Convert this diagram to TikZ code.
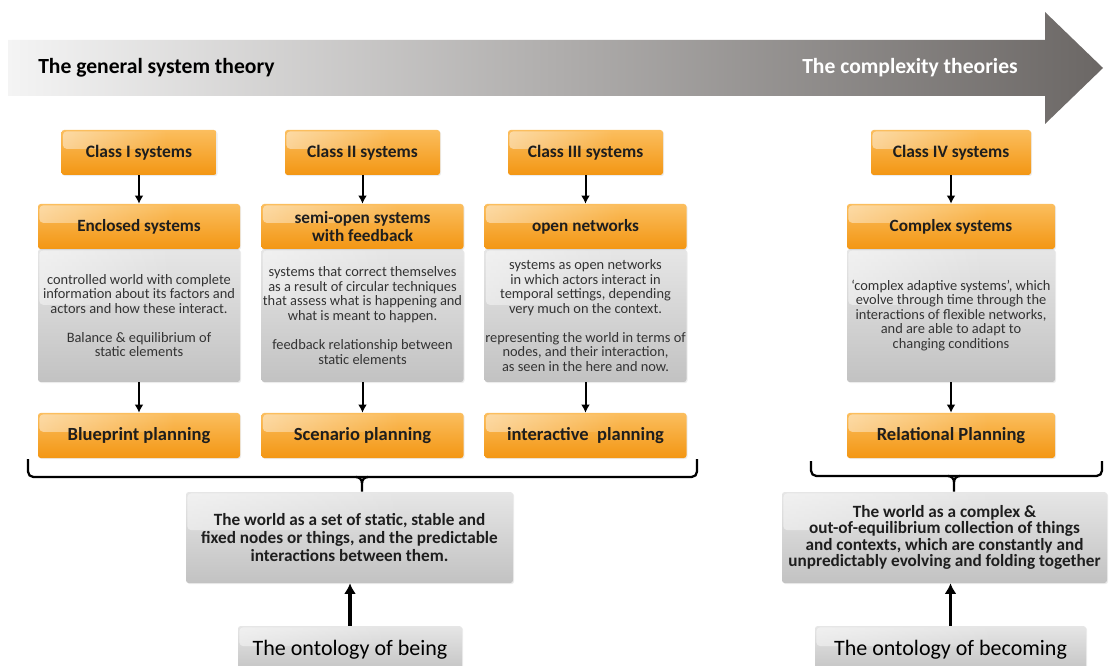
\documentclass[tikz,border=0pt]{standalone}
\usepackage{fontspec}
\setmainfont{Carlito}
\usetikzlibrary{arrows.meta,shadows,calc,fadings}
\definecolor{orTop}{HTML}{FBBE5E}
\definecolor{orMid}{HTML}{F7A126}
\definecolor{orBot}{HTML}{F39613}
\definecolor{grTop}{HTML}{E6E6E6}
\definecolor{grBot}{HTML}{C2C2C2}
\definecolor{arL}{HTML}{F4F4F4}
\definecolor{arR}{HTML}{6B6765}
\definecolor{txt}{HTML}{1E1E1E}
\definecolor{gtxt}{HTML}{333333}
\def\px{0.75pt}
\tikzfading[name=hlfade, left color=transparent!0, right color=transparent!100]
\tikzset{
  hilite/.style={path picture={
      \coordinate (hA) at ($(path picture bounding box.north west)!0.68!(path picture bounding box.north east)$);
      \coordinate (hB) at ($(path picture bounding box.north west)!0.42!(path picture bounding box.south west)$);
      \fill[white,fill opacity=0.45,path fading=hlfade,rounded corners=3pt] ($(path picture bounding box.north west)+(1pt,-1pt)$) rectangle (hA |- hB);}},
  boxbase/.style={rounded corners=2pt, inner sep=0pt, align=center,
      drop shadow={opacity=0.15, shadow xshift=0.8pt, shadow yshift=-0.8pt}},
  orbox/.style={boxbase, hilite, top color=orTop, middle color=orMid, bottom color=orBot,
      text=txt, font=\bfseries\fontsize{12.9pt}{13.5pt}\selectfont, minimum height=45*\px},
  clsbox/.style={orbox, minimum width=155*\px, font=\bfseries\fontsize{13.1pt}{13.5pt}\selectfont},
  hdbox/.style={orbox, minimum width=202*\px},
  planbox/.style={orbox, minimum width=202*\px, font=\bfseries\fontsize{13.9pt}{14pt}\selectfont},
  grbox/.style={boxbase, hilite, top color=grTop, bottom color=grBot, text=gtxt,
      font=\fontsize{10.8pt}{10.9pt}\selectfont, minimum width=202*\px, minimum height=133*\px},
  worldbox/.style={boxbase, hilite, top color=grTop, bottom color=grBot, text=txt,
      font=\bfseries\fontsize{12.9pt}{13.3pt}\selectfont, minimum height=91*\px},
  ontobox/.style={boxbase, hilite, top color=grTop, bottom color=grBot, text=black,
      font=\fontsize{16.5pt}{17pt}\selectfont, minimum height=48*\px},
  smallarrow/.style={draw=black, line width=1.5pt, -{Latex[length=6pt,width=6.5pt]}},
  bigarrow/.style={draw=black, line width=2.4pt, -{Latex[length=8pt,width=9pt]}},
  bracepath/.style={draw=black, line width=1.7pt, rounded corners=4pt},
  titletext/.style={font=\bfseries\fontsize{16.2pt}{17pt}\selectfont, inner sep=0pt},
}
\begin{document}
\begin{tikzpicture}[x=0.75pt,y=-0.75pt]
\useasboundingbox (0,0) rectangle (1110,666);
\clip (0,0) rectangle (1110,666);

% top arrow
\shade[left color=arL, right color=arR] (8,40) -- (1045,40) -- (1045,12) -- (1103,68) -- (1045,124) -- (1045,96) -- (8,96) -- cycle;
\node[titletext, anchor=west, text=black] (gst) at (38,68) {The general system theory};
\node[titletext, anchor=east, text=white] (ct) at (1018,68) {The complexity theories};

% class boxes
\node[clsbox] (cls1) at (139,152.5) {Class I systems};
\node[clsbox] (cls2) at (362.5,152.5) {Class II systems};
\node[clsbox] (cls3) at (585.5,152.5) {Class III systems};
\node[clsbox, minimum width=160*\px] (cls4) at (951,152.5) {Class IV systems};

% gray description boxes
\node[grbox] (gr1) at (139,315.5) {controlled world with complete\\information about its factors and\\actors and how these interact.\\[10.9pt]Balance \& equilibrium of\\static elements};
\node[grbox] (gr2) at (362.5,315.5) {systems that correct themselves\\as a result of circular techniques\\that assess what is happening and\\what is meant to happen.\\[10.9pt]feedback relationship between\\static elements};
\node[grbox] (gr3) at (585.5,315.5) {systems as open networks\\in which actors interact in\\temporal settings, depending\\very much on the context.\\[10.9pt]representing the world in terms of\\nodes, and their interaction,\\as seen in the here and now.};
\node[grbox, minimum width=208*\px] (gr4) at (951,315.5) {‘complex adaptive systems’, which\\evolve through time through the\\interactions of flexible networks,\\and are able to adapt to\\changing conditions};

% header boxes
\node[hdbox] (hd1) at (139,226.5) {Enclosed systems};
\node[hdbox] (hd2) at (362.5,226.5) {semi-open systems\\with feedback};
\node[hdbox] (hd3) at (585.5,226.5) {open networks};
\node[hdbox, minimum width=208*\px] (hd4) at (951,226.5) {Complex systems};

% planning boxes
\node[planbox] (pl1) at (139,435.5) {Blueprint planning};
\node[planbox] (pl2) at (362.5,435.5) {Scenario planning};
\node[planbox] (pl3) at (585.5,435.5) {interactive~ planning};
\node[planbox, minimum width=208*\px] (pl4) at (951,435.5) {Relational Planning};

% arrows in columns
\foreach \i in {1,2,3,4}{
  \draw[smallarrow] (cls\i.south) -- (hd\i.north);
  \draw[smallarrow] (gr\i.south) -- (pl\i.north);
}

% world boxes
\node[worldbox, minimum width=327*\px] (w1) at (349.5,537.5) {The world as a set of static, stable and\\fixed nodes or things, and the predictable\\interactions between them.};
\node[worldbox, minimum width=325*\px, font=\bfseries\fontsize{12.9pt}{12.3pt}\selectfont] (w4) at (944.5,537.5) {The world as a complex \&\\out-of-equilibrium collection of things\\and contexts, which are constantly and\\unpredictably evolving and folding together};

% ontology boxes
\node[ontobox, minimum width=224*\px] (ob) at (350,650) {The ontology of being};
\node[ontobox, minimum width=271*\px] (oc) at (950.5,650) {The ontology of becoming};

\draw[bigarrow] (ob.north) -- (ob.north |- w1.south);
\draw[bigarrow] (oc.north) -- (oc.north |- w4.south);

% braces
\coordinate (bL1) at (28,459);
\coordinate (bR1) at (697,459);
\coordinate (bM1) at (362,477);
\draw[bracepath] (bL1) -- (bL1 |- bM1) -- (bR1 |- bM1) -- (bR1);
\draw[black, line width=1.7pt] ($(bM1)+(-6,0)$) to[out=0,in=90] ($(bM1)+(0,6)$) -- (bM1 |- w1.north);
\draw[black, line width=1.7pt] ($(bM1)+(6,0)$) to[out=180,in=90] ($(bM1)+(0,6)$);

\coordinate (bL4) at (811,461);
\coordinate (bR4) at (1102,461);
\coordinate (bM4) at (954,476);
\draw[bracepath] (bL4) -- (bL4 |- bM4) -- (bR4 |- bM4) -- (bR4);
\draw[black, line width=1.7pt] ($(bM4)+(-6,0)$) to[out=0,in=90] ($(bM4)+(0,6)$) -- (bM4 |- w4.north);
\draw[black, line width=1.7pt] ($(bM4)+(6,0)$) to[out=180,in=90] ($(bM4)+(0,6)$);
\end{tikzpicture}
\end{document}
